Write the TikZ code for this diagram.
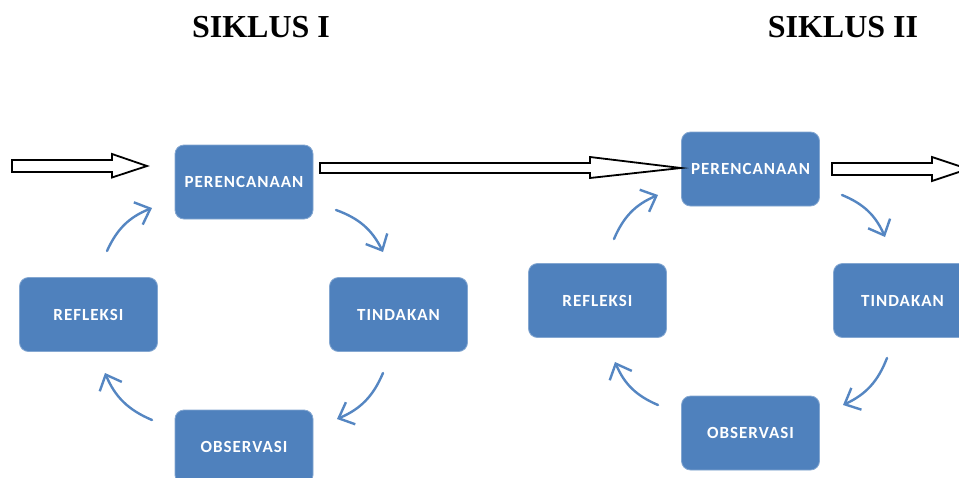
\documentclass[tikz,border=0pt]{standalone}
\usepackage{fontspec}
\setmainfont{Liberation Serif}
\newfontfamily\boxfont{Carlito}[LetterSpace=6, BoldFont={Carlito Bold}]
\usetikzlibrary{arrows.meta}
\definecolor{boxblue}{HTML}{4F81BD}
\definecolor{arrblue}{HTML}{5586C2}
\tikzset{
  stagebox/.style={fill=boxblue, draw=boxblue!70!white, line width=0.8pt, rounded corners=9pt,
    minimum width=138pt, minimum height=74pt, inner sep=0pt,
    text=white, font=\boxfont\bfseries\fontsize{17}{20}\selectfont},
  cyclearrow/.style={draw=arrblue, line width=2.4pt, line cap=round, bend left=22,
    -{Straight Barb[length=13pt,width=24pt,line width=2.4pt]}},
  blockarrow/.style={draw=black, fill=white, line width=1.8pt, line join=miter},
  title/.style={font=\fontsize{32}{38}\selectfont\bfseries, inner sep=0pt}
}
\begin{document}
\begin{tikzpicture}[x=1pt,y=-1pt]
\clip (0,0) rectangle (959,477);
\fill[white] (0,0) rectangle (959,477);

% titles
\node[title] (t1) at (261,27) {SIKLUS I};
\node[title] (t2) at (843,27) {SIKLUS II};

% cycle 1
\node[stagebox] (p1) at (244,182) {PERENCANAAN};
\node[stagebox] (r1) at (88.5,314.5) {REFLEKSI};
\node[stagebox] (d1) at (398.5,314.5) {TINDAKAN};
\node[stagebox] (o1) at (244,447) {OBSERVASI};

% cycle 2
\node[stagebox] (p2) at (750.5,169) {PERENCANAAN};
\node[stagebox] (r2) at (597.5,300.5) {REFLEKSI};
\node[stagebox] (d2) at (902.5,300.5) {TINDAKAN};
\node[stagebox] (o2) at (750.5,433) {OBSERVASI};

% block arrows
\draw[blockarrow] (12,160) -- (112,160) -- (112,154) -- (147,166) -- (112,177.5) -- (112,172) -- (12,172) -- cycle;
\draw[blockarrow] (320,163) -- (590,163) -- (590,157) -- (681,168) -- (590,178) -- (590,173) -- (320,173) -- cycle;
\draw[blockarrow] (832,163) -- (932,163) -- (932,157) -- (968,169) -- (932,181) -- (932,175) -- (832,175) -- cycle;

% cycle 1 arrow ends
\coordinate (a1s) at (107,251); \coordinate (a1e) at (152,208);
\coordinate (a2s) at (336,210); \coordinate (a2e) at (383,252);
\coordinate (a3s) at (383,373); \coordinate (a3e) at (337,419);
\coordinate (a4s) at (152,420); \coordinate (a4e) at (105,373);
% cycle 2 arrow ends
\coordinate (b1s) at (614,239); \coordinate (b1e) at (658,195);
\coordinate (b2s) at (842,195); \coordinate (b2e) at (885,237);
\coordinate (b3s) at (887,358); \coordinate (b3e) at (843,405);
\coordinate (b4s) at (658,405); \coordinate (b4e) at (615,362);

\foreach \s/\e in {a1s/a1e,a2s/a2e,a3s/a3e,a4s/a4e,b1s/b1e,b2s/b2e,b3s/b3e,b4s/b4e}
  \draw[cyclearrow] (\s) to (\e);
\end{tikzpicture}
\end{document}
